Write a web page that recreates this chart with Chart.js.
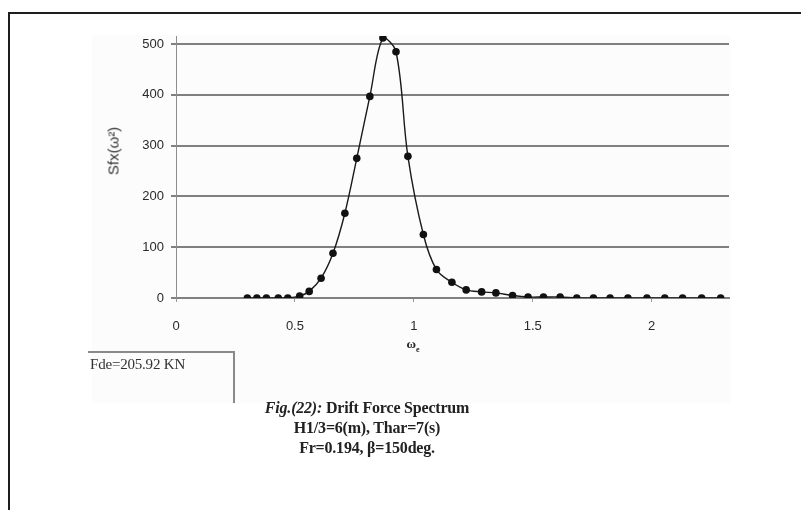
<!DOCTYPE html>
<html>
<head>
<meta charset="utf-8">
<script src="https://cdn.jsdelivr.net/npm/chart.js@4.4.1/dist/chart.umd.min.js"></script>
<style>
  html, body { margin: 0; padding: 0; background: #ffffff; }
  #wrap { position: relative; width: 801px; height: 510px; overflow: hidden; background: #ffffff; }
  #frame { position: absolute; left: 8px; top: 12px; width: 820px; height: 600px;
           border-left: 2px solid #1e1e1e; border-top: 2px solid #1e1e1e; }
  #plotbg { position: absolute; left: 92px; top: 35px; width: 638px; height: 368px; background: #fcfcfc; }
  #c { position: absolute; left: 0; top: 0; }
  #legend { position: absolute; left: 88px; top: 351px; width: 147px; height: 52px;
            border-top: 2px solid #8a8a8a; border-right: 2px solid #8a8a8a;
            font-family: "Liberation Serif", "Times New Roman", serif; font-size: 15px;
            color: #333; letter-spacing: -0.2px; box-sizing: border-box; padding: 3px 0 0 2px; }
  #caption { position: absolute; left: 167px; top: 398px; width: 400px; text-align: center;
             font-family: "Liberation Serif", "Times New Roman", serif; font-weight: bold;
             font-size: 16px; line-height: 20px; color: #222; letter-spacing: -0.2px; }
  #xtitle { position: absolute; left: 383px; top: 336px; width: 60px; text-align: center;
            font-family: "Liberation Serif", serif; font-weight: bold; font-size: 13px; color: #222; }
  #xtitle sub { font-size: 8px; }
  #ytitle { position: absolute; left: 113px; top: 151px; width: 0; height: 0; }
  #ytitle span { position: absolute; left: 0; top: 0; white-space: nowrap;
                 transform: translate(-50%, -50%) rotate(-90deg);
                 font-family: "Liberation Sans", sans-serif; font-size: 15px; color: #333; }
</style>
</head>
<body>
<div id="wrap">
  <div id="frame"></div>
  <div id="plotbg"></div>
  <canvas id="c" width="801" height="510"></canvas>
  <div id="ytitle"><span>Sfx(ω²)</span></div>
  <div id="xtitle">ω<sub>e</sub></div>
  <div id="legend">Fde=205.92 KN</div>
  <div id="caption"><i>Fig.(22):</i> Drift Force Spectrum<br>H1/3=6(m), Thar=7(s)<br>Fr=0.194, &beta;=150deg.</div>
</div>
<script>
// encounter frequency (rad/s)
const omega = [0.30, 0.34, 0.38, 0.43, 0.47, 0.52, 0.56, 0.61, 0.66, 0.71, 0.76, 0.815,
               0.87, 0.925, 0.975, 1.04, 1.095, 1.16, 1.22, 1.285, 1.345, 1.415, 1.48,
               1.545, 1.615, 1.685, 1.755, 1.825, 1.90, 1.98, 2.055, 2.13, 2.21, 2.29];
// drift force spectrum values
const spectrum = [0, 0, 0, 0, 0, 4, 13, 39, 88, 167, 275, 397,
                  512, 485, 279, 125, 56, 31, 16, 12, 10, 5, 2,
                  2, 2, 0, 0, 0, 0, 0, 0, 0, 0, 0];
// tick labels
const xTicks = [0, 0.5, 1, 1.5, 2];
const yTicks = [0, 100, 200, 300, 400, 500];

const points = omega.map((w, i) => ({ x: w, y: spectrum[i] }));

new Chart(document.getElementById('c'), {
  type: 'scatter',
  data: {
    datasets: [{
      data: points,
      showLine: true,
      tension: 0.35,
      borderColor: '#1a1a1a',
      borderWidth: 1.4,
      pointRadius: 3.8,
      pointBackgroundColor: '#111',
      pointBorderColor: '#111',
      pointBorderWidth: 0
    }]
  },
  options: {
    responsive: false,
    animation: false,
    events: [],
    layout: { autoPadding: false, padding: { left: 0, top: 36, right: 72, bottom: 0 } },
    plugins: { legend: { display: false }, tooltip: { enabled: false } },
    scales: {
      x: {
        type: 'linear',
        min: 0,
        max: 2.325,
        afterFit: s => { s.height = 212; },
        afterBuildTicks: s => { s.ticks = xTicks.map(v => ({ value: v })); },
        grid: { display: true, drawOnChartArea: false, drawTicks: true, tickLength: 4,
                color: '#999', lineWidth: 1 },
        border: { display: true, color: '#808080', width: 2 },
        ticks: { padding: 17, color: '#2a2a2a', maxRotation: 0,
                 callback: v => String(v),
                 font: { family: 'Liberation Sans', size: 13 } },
        title: { display: false }
      },
      y: {
        type: 'linear',
        min: 0,
        max: 516,
        afterFit: s => { s.width = 176; },
        afterBuildTicks: s => { s.ticks = yTicks.map(v => ({ value: v })); },
        grid: { display: true, drawOnChartArea: true, drawTicks: true, tickLength: 5,
                color: '#808080', lineWidth: 2 },
        border: { display: true, color: '#8c8c8c', width: 1 },
        ticks: { padding: 7, color: '#2a2a2a',
                 callback: v => String(v),
                 font: { family: 'Liberation Sans', size: 13 } },
        title: { display: false }
      }
    }
  }
});
</script>
</body>
</html>
